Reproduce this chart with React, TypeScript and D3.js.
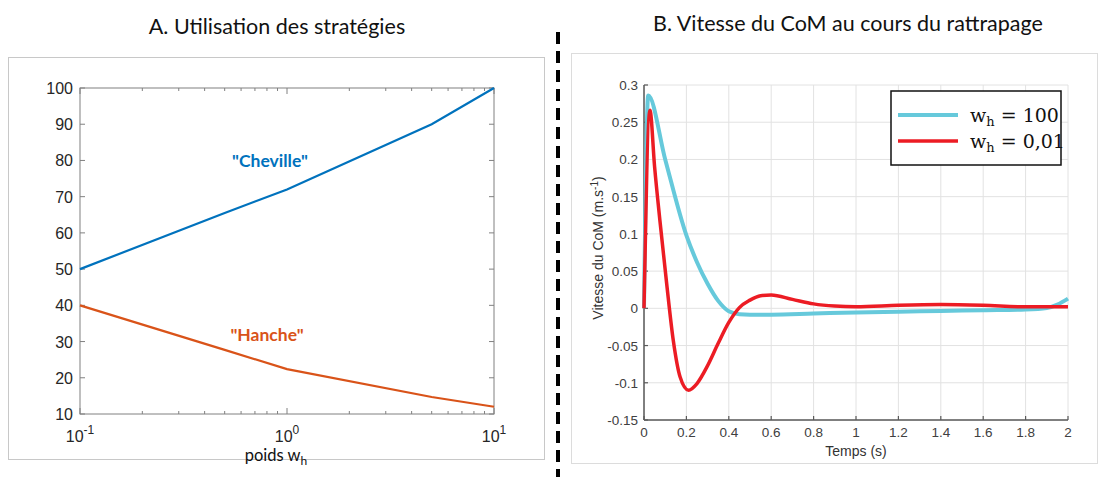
import React from "react";
import * as d3 from "d3";

// ---- Panel A data ----
const weights = [0.1, 0.5, 1, 5, 10];
const cheville = [50, 65.5, 72, 90, 100];
const hanche = [40, 27.7, 22.4, 14.7, 12];
const yTicksA = [10, 20, 30, 40, 50, 60, 70, 80, 90, 100];
const xMajorA = [0.1, 1, 10];
const xExpA = ["-1", "0", "1"];

// ---- Panel B data ----
const tCyan = [0, 0.02, 0.1, 0.2, 0.25, 0.3, 0.35, 0.4, 0.45, 0.5, 0.6, 0.8, 1.0, 1.2, 1.4, 1.6, 1.8, 1.9, 1.95, 2.0];
const vCyan = [0, 0.286, 0.2, 0.098, 0.062, 0.033, 0.01, -0.004, -0.008, -0.0085, -0.0085, -0.007, -0.0055, -0.0045, -0.0035, -0.0025, -0.0015, 0.0005, 0.005, 0.013];
const tRed = [0, 0.028, 0.05, 0.075, 0.107, 0.138, 0.17, 0.21, 0.25, 0.3, 0.35, 0.4, 0.45, 0.5, 0.55, 0.6, 0.7, 0.8, 0.9, 1.0, 1.2, 1.4, 1.6, 1.8, 2.0];
const vRed = [0, 0.266, 0.19, 0.118, 0.033, -0.043, -0.092, -0.11, -0.101, -0.077, -0.047, -0.019, 0.001, 0.011, 0.017, 0.018, 0.012, 0.006, 0.003, 0.002, 0.004, 0.005, 0.004, 0.002, 0.002];
const xTicksB = [0, 0.2, 0.4, 0.6, 0.8, 1, 1.2, 1.4, 1.6, 1.8, 2];
const yTicksB = [-0.15, -0.1, -0.05, 0, 0.05, 0.1, 0.15, 0.2, 0.25, 0.3];

const BLUE = "#0072BD";
const ORANGE = "#D95319";
const CYAN = "#66C9DB";
const RED = "#EC1C24";

export default function App() {
  // Panel A scales
  const xA = d3.scaleLog().domain([0.1, 10]).range([80, 494]);
  const yA = d3.scaleLinear().domain([10, 100]).range([414, 88]);
  const lineA = d3
    .line<[number, number]>()
    .x((d) => xA(d[0]))
    .y((d) => yA(d[1]));
  const minorA: number[] = [];
  [0.1, 1].forEach((dec) => {
    for (let k = 2; k <= 9; k++) minorA.push(dec * k);
  });

  // Panel B scales
  const xB = d3.scaleLinear().domain([0, 2]).range([644, 1068]);
  const yB = d3.scaleLinear().domain([-0.15, 0.3]).range([420, 85]);
  const lineB = d3
    .line<[number, number]>()
    .x((d) => xB(d[0]))
    .y((d) => yB(d[1]))
    .curve(d3.curveMonotoneX);

  const axisA = "#808080";
  const tickTextA = "#262626";
  const axisB = "#5a5a5a";
  const tickTextB = "#404040";
  const fontTick = "'Liberation Sans', Arial, sans-serif";
  const fontTitle = "Lato, 'Open Sans', sans-serif";

  const [x0A, x1A] = xA.range();
  const [y0A, y1A] = yA.range();
  const [x0B, x1B] = xB.range();
  const [y0B, y1B] = yB.range();

  return (
    <svg
      width={1105}
      height={477}
      style={{ position: "absolute", left: 0, top: 0, background: "#fff" }}
    >
      {/* Titles */}
      <text x={277} y={34} textAnchor="middle" fontFamily={fontTitle} fontSize={21.5} fill="#111">
        A. Utilisation des stratégies
      </text>
      <text x={848} y={31} textAnchor="middle" fontFamily={fontTitle} fontSize={21.5} fill="#111">
        B. Vitesse du CoM au cours du rattrapage
      </text>

      {/* Frames */}
      <rect x={8.5} y={57.5} width={536} height={402} fill="none" stroke="#c8c8c8" strokeWidth={1} />
      <rect x={571.5} y={53.5} width={526} height={410} fill="none" stroke="#dcdcdc" strokeWidth={1} />

      {/* Dashed separator */}
      <line x1={558} y1={32} x2={558} y2={477} stroke="#000" strokeWidth={4} strokeDasharray="12,7" />

      {/* ---------- Panel A ---------- */}
      <g>
        <rect x={x0A} y={y1A} width={x1A - x0A} height={y0A - y1A} fill="none" stroke={axisA} strokeWidth={1} />
        {yTicksA.map((v) => (
          <g key={"ya" + v}>
            <line x1={x0A} x2={x0A + 5} y1={yA(v)} y2={yA(v)} stroke={axisA} />
            <line x1={x1A} x2={x1A - 5} y1={yA(v)} y2={yA(v)} stroke={axisA} />
            <text x={x0A - 7} y={yA(v) + 6} textAnchor="end" fontFamily={fontTick} fontSize={16} fill={tickTextA}>
              {v}
            </text>
          </g>
        ))}
        {xMajorA.map((v, i) => (
          <g key={"xa" + v}>
            <line x1={xA(v)} x2={xA(v)} y1={y0A} y2={y0A - 6} stroke={axisA} />
            <line x1={xA(v)} x2={xA(v)} y1={y1A} y2={y1A + 6} stroke={axisA} />
            <text x={xA(v)} y={y0A + 28} textAnchor="middle" fontFamily={fontTick} fontSize={16} fill={tickTextA}>
              10
              <tspan dy={-8} fontSize={12}>
                {xExpA[i]}
              </tspan>
            </text>
          </g>
        ))}
        {minorA.map((v) => (
          <g key={"xm" + v}>
            <line x1={xA(v)} x2={xA(v)} y1={y0A} y2={y0A - 3} stroke={axisA} />
            <line x1={xA(v)} x2={xA(v)} y1={y1A} y2={y1A + 3} stroke={axisA} />
          </g>
        ))}
        <path
          d={lineA(weights.map((w, i) => [w, cheville[i]]) as [number, number][]) || ""}
          fill="none"
          stroke={BLUE}
          strokeWidth={2.2}
        />
        <path
          d={lineA(weights.map((w, i) => [w, hanche[i]]) as [number, number][]) || ""}
          fill="none"
          stroke={ORANGE}
          strokeWidth={2.2}
        />
        <text x={270} y={167} textAnchor="middle" fontFamily={fontTitle} fontWeight="bold" fontSize={17.5} fill={BLUE}>
          "Cheville"
        </text>
        <text x={267} y={341} textAnchor="middle" fontFamily={fontTitle} fontWeight="bold" fontSize={17.5} fill={ORANGE}>
          "Hanche"
        </text>
        <text x={276} y={461} textAnchor="middle" fontFamily={fontTitle} fontSize={16.5} fill="#111">
          poids w<tspan dy={4} fontSize={12}>h</tspan>
        </text>
      </g>

      {/* ---------- Panel B ---------- */}
      <g>
        {xTicksB.map((v) => (
          <line key={"gx" + v} x1={xB(v)} x2={xB(v)} y1={y0B} y2={y1B} stroke="#e2e2e2" strokeWidth={1} />
        ))}
        {yTicksB.map((v) => (
          <line key={"gy" + v} x1={x0B} x2={x1B} y1={yB(v)} y2={yB(v)} stroke="#e2e2e2" strokeWidth={1} />
        ))}
        <line x1={x0B} x2={x0B} y1={y0B} y2={y1B} stroke={axisB} strokeWidth={1.5} />
        <line x1={x0B} x2={x1B} y1={y0B} y2={y0B} stroke={axisB} strokeWidth={1.5} />
        {xTicksB.map((v) => (
          <g key={"xb" + v}>
            <line x1={xB(v)} x2={xB(v)} y1={y0B} y2={y0B - 4} stroke={axisB} strokeWidth={1.2} />
            <text x={xB(v)} y={y0B + 17} textAnchor="middle" fontFamily={fontTick} fontSize={13.5} fill={tickTextB}>
              {String(+v.toFixed(2))}
            </text>
          </g>
        ))}
        {yTicksB.map((v) => (
          <g key={"yb" + v}>
            <line x1={x0B} x2={x0B + 4} y1={yB(v)} y2={yB(v)} stroke={axisB} strokeWidth={1.2} />
            <text x={x0B - 6} y={yB(v) + 5} textAnchor="end" fontFamily={fontTick} fontSize={13.5} fill={tickTextB}>
              {String(+v.toFixed(2))}
            </text>
          </g>
        ))}
        <text x={(x0B + x1B) / 2} y={456} textAnchor="middle" fontFamily={fontTick} fontSize={14} fill="#333">
          Temps (s)
        </text>
        <text
          transform={`translate(603, 248) rotate(-90)`}
          textAnchor="middle"
          fontFamily={fontTick}
          fontSize={14}
          fill="#333"
        >
          Vitesse du CoM (m.s<tspan dy={-5} fontSize={10}>-1</tspan>
          <tspan dy={5}>)</tspan>
        </text>
        <path
          d={lineB(tCyan.map((t, i) => [t, vCyan[i]]) as [number, number][]) || ""}
          fill="none"
          stroke={CYAN}
          strokeWidth={4}
          strokeLinejoin="round"
        />
        <path
          d={lineB(tRed.map((t, i) => [t, vRed[i]]) as [number, number][]) || ""}
          fill="none"
          stroke={RED}
          strokeWidth={3.5}
          strokeLinejoin="round"
        />
        <rect x={891} y={91} width={170} height={74} fill="#fff" stroke="#111" strokeWidth={1.5} />
        <line x1={898} x2={958} y1={115} y2={115} stroke={CYAN} strokeWidth={4} />
        <line x1={898} x2={958} y1={141} y2={141} stroke={RED} strokeWidth={3.5} />
        <text x={970} y={122} fontFamily="'DejaVu Serif', 'Liberation Serif', serif" fontSize={19} fill="#111">
          w<tspan dy={4} fontSize={13}>h</tspan>
          <tspan dy={-4}> = 100</tspan>
        </text>
        <text x={970} y={148} fontFamily="'DejaVu Serif', 'Liberation Serif', serif" fontSize={19} fill="#111">
          w<tspan dy={4} fontSize={13}>h</tspan>
          <tspan dy={-4}> = 0,01</tspan>
        </text>
      </g>
    </svg>
  );
}
